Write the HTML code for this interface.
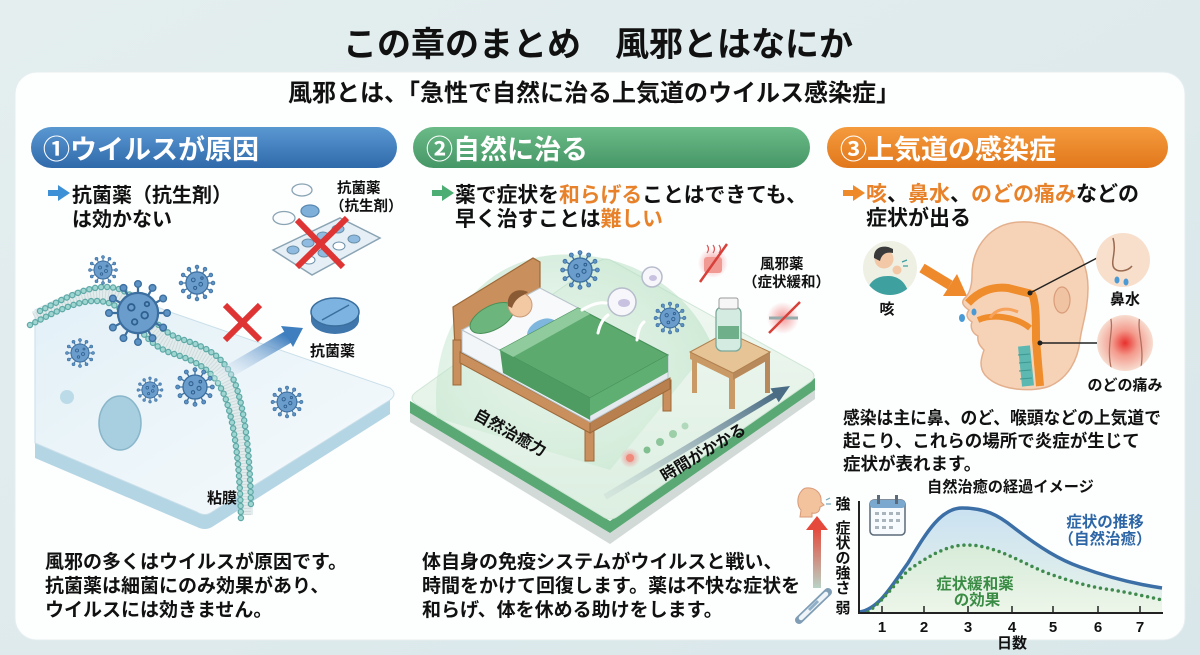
<!DOCTYPE html>
<html><head><meta charset="utf-8">
<style>
html,body{margin:0;padding:0;width:1200px;height:655px;overflow:hidden;background:#dfe9ec}
svg{display:block}
text{font-family:"Liberation Sans","Noto Sans CJK JP",sans-serif;font-weight:bold}
</style></head><body>
<svg width="1200" height="655" viewBox="0 0 1200 655" xmlns="http://www.w3.org/2000/svg">
<defs>
 <linearGradient id="bg" x1="0" y1="0" x2="1" y2="1"><stop offset="0" stop-color="#e4eeef"/><stop offset="1" stop-color="#d9e7ea"/></linearGradient>
 <linearGradient id="hb" x1="0" y1="0" x2="0" y2="1"><stop offset="0" stop-color="#5a98d2"/><stop offset="1" stop-color="#2f69aa"/></linearGradient>
 <linearGradient id="hg" x1="0" y1="0" x2="0" y2="1"><stop offset="0" stop-color="#6bbb88"/><stop offset="1" stop-color="#469766"/></linearGradient>
 <linearGradient id="ho" x1="0" y1="0" x2="0" y2="1"><stop offset="0" stop-color="#f49b3e"/><stop offset="1" stop-color="#e2771b"/></linearGradient>
 <linearGradient id="slab" x1="0" y1="0" x2="1" y2="1"><stop offset="0" stop-color="#e2f0f7"/><stop offset="1" stop-color="#f6fafc"/></linearGradient>
 <linearGradient id="plat" x1="0" y1="0" x2="0" y2="1"><stop offset="0" stop-color="#f2f9f3"/><stop offset="1" stop-color="#dcefe1"/></linearGradient>
 <linearGradient id="arrB" x1="0" y1="1" x2="1" y2="0"><stop offset="0" stop-color="#ffffff" stop-opacity="0.2"/><stop offset="1" stop-color="#3f7fbf"/></linearGradient>
 <linearGradient id="arrT" x1="0" y1="1" x2="1" y2="0"><stop offset="0" stop-color="#9fb3bd" stop-opacity="0.15"/><stop offset="1" stop-color="#4a6c84"/></linearGradient>
 <linearGradient id="chartFill" x1="0" y1="0" x2="0" y2="1"><stop offset="0" stop-color="#c9e1f1"/><stop offset="1" stop-color="#e9f4ea"/></linearGradient>
 <linearGradient id="greenFill" x1="0" y1="0" x2="0" y2="1"><stop offset="0" stop-color="#d8ecd2" stop-opacity="0.8"/><stop offset="1" stop-color="#eef7e8" stop-opacity="0.6"/></linearGradient>
 <linearGradient id="upArr" x1="0" y1="0" x2="0" y2="1"><stop offset="0" stop-color="#e5493b"/><stop offset="1" stop-color="#b9d3c6"/></linearGradient>
 <radialGradient id="throat" cx="0.5" cy="0.5" r="0.5"><stop offset="0" stop-color="#e8302c"/><stop offset="0.45" stop-color="#f39a8c"/><stop offset="1" stop-color="#f7ddd0"/></radialGradient>
 <radialGradient id="redglow" cx="0.5" cy="0.5" r="0.5"><stop offset="0" stop-color="#f07070" stop-opacity="0.7"/><stop offset="1" stop-color="#f07070" stop-opacity="0"/></radialGradient>
 <radialGradient id="dome" cx="0.45" cy="0.6" r="0.6"><stop offset="0" stop-color="#d5eedb" stop-opacity="0.2"/><stop offset="1" stop-color="#b8e0c4" stop-opacity="0.55"/></radialGradient>
 <clipPath id="coughClip"><circle cx="890" cy="268" r="27"/></clipPath>
 <clipPath id="throatClip"><circle cx="1125" cy="343" r="28"/></clipPath>
 <symbol id="virus" viewBox="-30 -30 60 60">
  <g stroke="#3c6f9f" stroke-width="2">
   <line x1="0" y1="0" x2="25" y2="0"/><line x1="0" y1="0" x2="21.65" y2="12.5"/><line x1="0" y1="0" x2="12.5" y2="21.65"/><line x1="0" y1="0" x2="0" y2="25"/>
   <line x1="0" y1="0" x2="-12.5" y2="21.65"/><line x1="0" y1="0" x2="-21.65" y2="12.5"/><line x1="0" y1="0" x2="-25" y2="0"/><line x1="0" y1="0" x2="-21.65" y2="-12.5"/>
   <line x1="0" y1="0" x2="-12.5" y2="-21.65"/><line x1="0" y1="0" x2="0" y2="-25"/><line x1="0" y1="0" x2="12.5" y2="-21.65"/><line x1="0" y1="0" x2="21.65" y2="-12.5"/>
  </g>
  <g fill="#5d92c4" stroke="#3c6f9f" stroke-width="1.2">
   <circle cx="26" cy="0" r="3"/><circle cx="22.5" cy="13" r="3"/><circle cx="13" cy="22.5" r="3"/><circle cx="0" cy="26" r="3"/>
   <circle cx="-13" cy="22.5" r="3"/><circle cx="-22.5" cy="13" r="3"/><circle cx="-26" cy="0" r="3"/><circle cx="-22.5" cy="-13" r="3"/>
   <circle cx="-13" cy="-22.5" r="3"/><circle cx="0" cy="-26" r="3"/><circle cx="13" cy="-22.5" r="3"/><circle cx="22.5" cy="-13" r="3"/>
  </g>
  <circle cx="0" cy="0" r="18" fill="#6a9dcc" stroke="#3c6f9f" stroke-width="2"/>
  <g fill="none" stroke="#2f5f8f" stroke-width="1.6"><circle cx="-6" cy="-5" r="3"/><circle cx="6" cy="2" r="3"/><circle cx="-3" cy="8" r="2.5"/><circle cx="8" cy="-8" r="2"/></g>
 </symbol>
</defs>

<!-- background -->
<rect x="0" y="0" width="1200" height="655" fill="url(#bg)"/>
<text x="343" y="56" font-size="34" fill="#111">この章のまとめ　風邪とはなにか</text>

<!-- card -->
<rect x="15" y="72" width="1170" height="568" rx="22" fill="#fdfefe" stroke="#e6eef0" stroke-width="1"/>
<text x="288" y="101" font-size="24" fill="#111">風邪とは、「急性で自然に治る上気道のウイルス感染症」</text>

<!-- headers -->
<rect x="31" y="127" width="366" height="41" rx="20.5" fill="url(#hb)"/>
<text x="43" y="159" font-size="27" fill="#fff">①ウイルスが原因</text>
<rect x="413" y="127" width="397" height="41" rx="20.5" fill="url(#hg)"/>
<text x="426" y="159" font-size="27" fill="#fff">②自然に治る</text>
<rect x="827" y="127" width="341" height="41" rx="20.5" fill="url(#ho)"/>
<text x="840" y="159" font-size="27" fill="#fff">③上気道の感染症</text>

<!-- bullets -->
<g>
 <rect x="48" y="190" width="12" height="6" fill="#3d8fd6"/><polygon points="58,185 70,193 58,201" fill="#3d8fd6"/>
 <text x="72" y="202" font-size="20" fill="#111">抗菌薬（抗生剤）</text>
 <text x="72" y="226" font-size="20" fill="#111">は効かない</text>

 <rect x="432" y="190" width="12" height="6" fill="#4cae73"/><polygon points="442,185 454,193 442,201" fill="#4cae73"/>
 <text x="455" y="202" font-size="20.8" fill="#111">薬で症状を<tspan fill="#e8822a">和らげる</tspan>ことはできても、</text>
 <text x="455" y="226" font-size="20.8" fill="#111">早く治すことは<tspan fill="#e8822a">難しい</tspan></text>

 <rect x="843" y="190" width="12" height="6" fill="#ee8a2a"/><polygon points="853,185 865,193 853,201" fill="#ee8a2a"/>
 <text x="866" y="201" font-size="21" fill="#111"><tspan fill="#e8822a">咳</tspan>、<tspan fill="#e8822a">鼻水</tspan>、<tspan fill="#e8822a">のどの痛み</tspan>などの</text>
 <text x="866" y="225" font-size="21" fill="#111">症状が出る</text>
</g>

<!-- ===== Panel 1 illustration ===== -->
<g>
 <path d="M35,443 L197,512 Q205,517 212,512 L390,400 L390,414 L212,527 Q205,531 197,527 L35,458 Z" fill="#b3d5e4"/>
 <path d="M35,310 C60,298 90,280 115,288 C135,294 150,305 170,312 L390,388 Q398,394 390,400 L212,512 Q205,517 197,512 L35,443 Z" fill="url(#slab)" stroke="#c9dfe9" stroke-width="1"/>
 <!-- membrane -->
 <path d="M35,318 C60,305 90,288 114,296 C138,304 146,336 176,346 C205,355 220,365 230,390 C240,418 245,460 246,515" fill="none" stroke="#e2eced" stroke-width="14"/>
 <path d="M35,318 C60,305 90,288 114,296 C138,304 146,336 176,346 C205,355 220,365 230,390 C240,418 245,460 246,515" fill="none" stroke="#cfdadc" stroke-width="10" stroke-dasharray="1 2"/>
 <g transform="translate(5,-7)"><path d="M35,318 C60,305 90,288 114,296 C138,304 146,336 176,346 C205,355 220,365 230,390 C240,418 245,460 246,515" fill="none" stroke="#5fa9a7" stroke-width="6.5" stroke-linecap="round" stroke-dasharray="0 6"/>
 <path d="M35,318 C60,305 90,288 114,296 C138,304 146,336 176,346 C205,355 220,365 230,390 C240,418 245,460 246,515" fill="none" stroke="#9fd6d2" stroke-width="4" stroke-linecap="round" stroke-dasharray="0 6"/></g>
 <g transform="translate(-5,7)"><path d="M35,318 C60,305 90,288 114,296 C138,304 146,336 176,346 C205,355 220,365 230,390 C240,418 245,460 246,515" fill="none" stroke="#5fa9a7" stroke-width="6.5" stroke-linecap="round" stroke-dasharray="0 6"/>
 <path d="M35,318 C60,305 90,288 114,296 C138,304 146,336 176,346 C205,355 220,365 230,390 C240,418 245,460 246,515" fill="none" stroke="#9fd6d2" stroke-width="4" stroke-linecap="round" stroke-dasharray="0 6"/></g>
 <ellipse cx="120" cy="423" rx="21" ry="27" fill="#a8cfe0" stroke="#8ab6ca" stroke-width="1.5"/>
 <circle cx="67" cy="397" r="7" fill="#bcdbe8"/>
 <use href="#virus" x="88" y="255" width="30" height="30"/>
 <use href="#virus" x="178.5" y="264.5" width="37" height="37"/>
 <use href="#virus" x="104.5" y="279.5" width="67" height="67"/>
 <use href="#virus" x="65" y="338" width="30" height="30"/>
 <use href="#virus" x="136.5" y="376.5" width="27" height="27"/>
 <use href="#virus" x="175" y="367" width="40" height="40"/>
 <use href="#virus" x="270.5" y="385.5" width="33" height="33"/>
 <!-- arrow -->
 <line x1="214" y1="380" x2="288" y2="337" stroke="url(#arrB)" stroke-width="13"/>
 <polygon points="303,328 293,347 281,326" fill="#3f7fbf"/>
 <!-- red X -->
 <g stroke="#de3434" stroke-width="6" stroke-linecap="butt"><line x1="225" y1="305" x2="260" y2="340"/><line x1="260" y1="305" x2="225" y2="340"/></g>
 <!-- tablet -->
 <ellipse cx="335" cy="320" rx="24" ry="14" fill="#3f77ad"/>
 <rect x="311" y="312" width="48" height="8" fill="#3f77ad"/>
 <ellipse cx="335" cy="312" rx="24" ry="14" fill="#7db3e0" stroke="#3a6e9e" stroke-width="1.5"/>
 <line x1="322" y1="320" x2="349" y2="305" stroke="#3a6e9e" stroke-width="1.5"/>
 <text x="310" y="356" font-size="15" fill="#111">抗菌薬</text>
 <!-- blister pack & pills -->
 <polygon points="273,250 340,218 380,238 312,275" fill="#e6eff5" stroke="#8aa4b4" stroke-width="1.5"/>
 <g fill="#8fbbe0" stroke="#6a8ea8" stroke-width="1">
  <ellipse cx="293" cy="250" rx="6" ry="4"/><ellipse cx="308" cy="243" rx="6" ry="4"/><ellipse cx="323" cy="236" rx="6" ry="4"/><ellipse cx="338" cy="229" rx="6" ry="4"/>
  <ellipse cx="309" cy="260" rx="6" ry="4" fill="#fff"/><ellipse cx="324" cy="253" rx="6" ry="4"/><ellipse cx="339" cy="246" rx="6" ry="4" fill="#fff"/><ellipse cx="354" cy="239" rx="6" ry="4"/>
 </g>
 <ellipse cx="302" cy="190" rx="10" ry="6" fill="#fafcfd" stroke="#8aa4b4" stroke-width="1.3"/>
 <ellipse cx="284" cy="218" rx="11" ry="6.5" fill="#fafcfd" stroke="#8aa4b4" stroke-width="1.3"/>
 <ellipse cx="310" cy="211" rx="9" ry="6" fill="#7fb0da" stroke="#5a88b0" stroke-width="1.3"/>
 <g stroke="#de3434" stroke-width="6"><line x1="297" y1="220" x2="343" y2="267"/><line x1="347" y1="218" x2="297" y2="267"/></g>
 <text x="337" y="193" font-size="14.5" fill="#111">抗菌薬</text>
 <text x="330" y="211" font-size="14.5" fill="#111">（抗生剤）</text>
 <text x="207" y="503" font-size="15" fill="#111">粘膜</text>
</g>

<!-- ===== Panel 2 illustration ===== -->
<g>
 <polygon points="410,413 610,533 815,390 815,399 610,544 410,422" fill="#d2dad7"/>
 <polygon points="410,401 610,521 815,378 815,390 610,533 410,413" fill="#5aa874"/>
 <path d="M416,392 L598,262 Q606,256 614,262 L810,370 Q818,376 810,382 L618,516 Q610,522 602,516 L416,404 Q408,398 416,392 Z" fill="url(#plat)" stroke="#cfe6d6" stroke-width="1"/>
 <path d="M437,418 C428,330 478,262 553,255 C628,250 688,288 712,345 L610,470 Z" fill="url(#dome)"/>
 <!-- bed -->
 <polygon points="453,307 533,258 540,262 540,300 462,350 455,348" fill="#c98f5c" stroke="#9d6939" stroke-width="1.2"/>
 <rect x="453" y="340" width="8" height="45" fill="#c98f5c" stroke="#9d6939" stroke-width="1"/>
 <rect x="585" y="425" width="9" height="36" fill="#c98f5c" stroke="#9d6939" stroke-width="1"/>
 <rect x="663" y="380" width="8" height="31" fill="#c98f5c" stroke="#9d6939" stroke-width="1"/>
 <polygon points="460,352 590,422 590,433 460,363" fill="#c98f5c" stroke="#9d6939" stroke-width="1"/>
 <polygon points="590,422 670,378 670,389 590,433" fill="#b8804e" stroke="#9d6939" stroke-width="1"/>
 <polygon points="462,330 590,398 590,422 462,352" fill="#f3f6f8" stroke="#b8c4cc" stroke-width="1"/>
 <polygon points="590,398 668,355 668,378 590,422" fill="#e4eaee" stroke="#b8c4cc" stroke-width="1"/>
 <polygon points="462,330 540,288 668,355 590,398" fill="#f7f9fb" stroke="#b8c4cc" stroke-width="1"/>
 <ellipse cx="492" cy="318" rx="24" ry="12" transform="rotate(-28 492 318)" fill="#6cb57c" stroke="#4a9058" stroke-width="1"/>
 <ellipse cx="542" cy="330" rx="16" ry="10" transform="rotate(-28 542 330)" fill="#7fb6de"/>
 <circle cx="520" cy="305" r="12" fill="#f3c9a4" stroke="#c99a78" stroke-width="1"/>
 <path d="M508,306 C506,293 517,287 528,292 C524,296 516,296 512,308 Z" fill="#8a5a34"/>
 <polygon points="500,350 578,308 668,355 590,398" fill="#5caa6e" stroke="#468f58" stroke-width="1"/>
 <polygon points="500,350 578,308 590,314 513,357" fill="#8fcb9d"/>
 <polygon points="500,350 590,398 590,420 503,373" fill="#4f9c62"/>
 <polygon points="590,398 668,355 668,372 590,416" fill="#5fae72"/>
 <!-- immune cells & viruses -->
 <use href="#virus" x="560" y="250" width="40" height="40"/>
 <use href="#virus" x="653.5" y="301.5" width="33" height="33"/>
 <circle cx="622" cy="302" r="14" fill="#f6f6fb" stroke="#b6bccb" stroke-width="1.5"/>
 <ellipse cx="624" cy="303" rx="6" ry="4" fill="#c8c2e0"/>
 <circle cx="652" cy="277" r="10" fill="#f6f6fb" stroke="#b6bccb" stroke-width="1.5"/>
 <ellipse cx="653" cy="278" rx="4" ry="3" fill="#c8c2e0"/>
 <g fill="none" stroke="#ffffff" stroke-width="3" stroke-linecap="round"><path d="M582,310 C592,304 600,302 606,303"/><path d="M598,333 C600,324 604,318 608,315"/><path d="M637,340 C638,331 640,325 644,322"/></g>
 <!-- table -->
 <rect x="692" y="355" width="5" height="38" fill="#c99a66"/><rect x="729" y="376" width="6" height="33" fill="#c99a66"/><rect x="765" y="355" width="5" height="38" fill="#b8895a"/>
 <polygon points="690,352 733,373 733,380 690,359" fill="#c99a66"/>
 <polygon points="733,373 770,352 770,359 733,380" fill="#b8895a"/>
 <polygon points="690,352 727,332 770,352 733,373" fill="#e6c495" stroke="#b08050" stroke-width="1"/>
 <rect x="716" y="307" width="25" height="44" rx="6" fill="#d3ebe1" stroke="#7aa89a" stroke-width="1.3"/>
 <rect x="718" y="326" width="21" height="13" fill="#6fb08a"/>
 <rect x="719" y="298" width="19" height="11" rx="2" fill="#f6f6f6" stroke="#999" stroke-width="1"/>
 <!-- red icons -->
 <circle cx="713" cy="263" r="15" fill="url(#redglow)"/>
 <rect x="704" y="257" width="18" height="16" rx="3" fill="#f19a94"/>
 <path d="M707,253 q3,-4 0,-8 M713,253 q3,-4 0,-8 M719,253 q3,-4 0,-8" fill="none" stroke="#d55" stroke-width="1.2"/>
 <line x1="700" y1="282" x2="727" y2="244" stroke="#d8403a" stroke-width="2.5"/>
 <circle cx="783" cy="318" r="16" fill="url(#redglow)"/>
 <line x1="769" y1="318" x2="798" y2="318" stroke="#9aa" stroke-width="3"/>
 <line x1="769" y1="333" x2="800" y2="302" stroke="#d8403a" stroke-width="2.5"/>
 <text x="760" y="269" font-size="14.5" fill="#111">風邪薬</text>
 <text x="743" y="287" font-size="14.5" fill="#111">（症状緩和）</text>
 <!-- time arrow -->
 <line x1="605" y1="497" x2="775" y2="395" stroke="url(#arrT)" stroke-width="6"/>
 <polygon points="790,386 778.7,402.2 770.5,388.4" fill="#4a6c84"/>
 <circle cx="630" cy="458" r="10" fill="url(#redglow)"/><circle cx="630" cy="458" r="4" fill="#f08a7a"/>
 <circle cx="647" cy="450" r="3.5" fill="#7fbf90"/><circle cx="660" cy="442" r="4" fill="#8cc59a"/><circle cx="673" cy="434" r="4" fill="#9ccfa8"/><circle cx="685" cy="426" r="3.5" fill="#b0d9bb"/>
 <text x="510" y="438" font-size="16" fill="#111" text-anchor="middle" transform="rotate(29 510 433)">自然治癒力</text>
 <text x="703" y="458" font-size="16" fill="#111" text-anchor="middle" transform="rotate(-31 703 452)">時間がかかる</text>
</g>

<!-- ===== Panel 3 illustration ===== -->
<g>
 <circle cx="890" cy="268" r="27" fill="#eef0e4"/>
 <g clip-path="url(#coughClip)">
  <path d="M866,300 C866,284 874,276 888,276 C900,276 908,284 910,300 Z" fill="#3fa0a0"/>
  <circle cx="884" cy="259" r="9.5" fill="#f2c8a6"/>
  <path d="M874,258 C873,247 884,244 893,249 L893,253 C887,252 882,253 880,261 Z" fill="#3a3a3a"/>
  <circle cx="897" cy="270" r="4.5" fill="#f2c8a6"/>
  <path d="M902,262 l5,-2 M903,266 l5,0" stroke="#3fa0a0" stroke-width="1.3"/>
 </g>
 <text x="887" y="314" font-size="15" fill="#111" text-anchor="middle">咳</text>
 <line x1="922" y1="268" x2="950" y2="285" stroke="#ef8a2c" stroke-width="10"/>
 <polygon points="967,296 943,296 957,274" fill="#ef8a2c"/>
 <!-- head -->
 <path d="M1020,222 C1058,220 1088,248 1088,288 C1088,310 1082,325 1080,340 C1078,360 1068,378 1050,386 C1035,392 1000,392 985,375 C978,366 982,356 984,350 C980,346 977,342 978,336 C972,333 970,327 972,322 C966,318 966,314 969,310 C963,306 960,302 966,297 C970,292 972,284 972,275 C972,245 992,223 1020,222 Z" fill="#f6d3b7" stroke="#e3b08e" stroke-width="1.5"/>
 <ellipse cx="1062" cy="300" rx="8" ry="13" fill="#f0c3a2" stroke="#d99c7a" stroke-width="1.2"/>
 <path d="M968,303 C978,292 992,286 1008,288 L1032,294 C1036,302 1036,320 1036,340 L1040,386" fill="none" stroke="#ef8c2c" stroke-width="8" stroke-linejoin="round"/>
 <path d="M978,320 C992,314 1015,316 1030,328" fill="none" stroke="#ef8c2c" stroke-width="6"/>
 <path d="M1018,312 C1005,306 995,310 990,318" fill="none" stroke="#f6a25a" stroke-width="3"/>
 <path d="M1024,346 L1028,386" fill="none" stroke="#5db8b2" stroke-width="12"/>
 <g stroke="#3e9892" stroke-width="1"><line x1="1018" y1="355" x2="1030" y2="354"/><line x1="1019" y1="363" x2="1031" y2="362"/><line x1="1019" y1="371" x2="1031" y2="370"/><line x1="1020" y1="379" x2="1032" y2="378"/></g>
 <ellipse cx="962" cy="318" rx="3" ry="4" fill="#4a9ad6"/><ellipse cx="974" cy="312" rx="2.5" ry="3.5" fill="#4a9ad6"/>
 <!-- nose circle -->
 <line x1="1097" y1="258" x2="1030" y2="293" stroke="#222" stroke-width="1.5"/><circle cx="1030" cy="293" r="2.5" fill="#222"/>
 <circle cx="1123" cy="260" r="27" fill="#f7dfcc"/>
 <path d="M1113,238 C1117,252 1110,262 1114,268 C1118,273 1128,271 1132,266" fill="none" stroke="#9a6a50" stroke-width="1.5"/>
 <ellipse cx="1117" cy="280" rx="2.5" ry="3.5" fill="#4a9ad6"/><ellipse cx="1126" cy="282" rx="2.5" ry="3.5" fill="#4a9ad6"/>
 <text x="1125" y="304" font-size="15" fill="#111" text-anchor="middle">鼻水</text>
 <!-- throat circle -->
 <line x1="1097" y1="343" x2="1040" y2="343" stroke="#222" stroke-width="1.5"/><circle cx="1040" cy="343" r="2.5" fill="#222"/>
 <circle cx="1125" cy="343" r="28" fill="url(#throat)"/>
 <g clip-path="url(#throatClip)" fill="none" stroke="#b07060" stroke-width="1.3"><path d="M1110,316 C1115,330 1105,345 1112,372"/><path d="M1140,316 C1136,330 1146,348 1140,372"/></g>
 <text x="1125" y="390" font-size="15" fill="#111" text-anchor="middle">のどの痛み</text>
</g>

<!-- body texts -->
<g font-size="19" fill="#111">
 <text x="45" y="568" font-size="19">風邪の多くはウイルスが原因です。</text>
 <text x="45" y="592" font-size="19">抗菌薬は細菌にのみ効果があり、</text>
 <text x="45" y="616" font-size="19">ウイルスには効きません。</text>
 <text x="422" y="568" font-size="19">体自身の免疫システムがウイルスと戦い、</text>
 <text x="422" y="592" font-size="19">時間をかけて回復します。薬は不快な症状を</text>
 <text x="422" y="616" font-size="19">和らげ、体を休める助けをします。</text>
</g>
<text x="843" y="424" font-size="17.5" fill="#111" textLength="318" lengthAdjust="spacingAndGlyphs">感染は主に鼻、のど、喉頭などの上気道で</text>
<text x="843" y="447" font-size="17.5" fill="#111">起こり、これらの場所で炎症が生じて</text>
<text x="843" y="470" font-size="17.5" fill="#111">症状が表れます。</text>

<!-- ===== Chart ===== -->
<g>
 <text x="927" y="492" font-size="15.2" fill="#111">自然治癒の経過イメージ</text>
 <path d="M860,612 C880,608 892,585 908,563 C925,535 940,508 962,508 C985,508 998,515 1013,527 C1040,548 1060,560 1080,567 C1110,578 1135,584 1162,588 L1162,612 Z" fill="url(#chartFill)"/>
 <path d="M868,612 C890,595 900,575 913,567 C935,552 950,545 967,545 C995,545 1020,562 1047,573 C1075,583 1095,588 1113,590 C1135,594 1150,597 1162,600 L1162,612 Z" fill="url(#greenFill)"/>
 <path d="M860,612 C880,608 892,585 908,563 C925,535 940,508 962,508 C985,508 998,515 1013,527 C1040,548 1060,560 1080,567 C1110,578 1135,584 1162,588" fill="none" stroke="#3b6fa6" stroke-width="3.5"/>
 <path d="M868,612 C890,595 900,575 913,567 C935,552 950,545 967,545 C995,545 1020,562 1047,573 C1075,583 1095,588 1113,590 C1135,594 1150,597 1162,600" fill="none" stroke="#3f8a4e" stroke-width="3.5" stroke-linecap="round" stroke-dasharray="0 6"/>
 <line x1="859" y1="501" x2="859" y2="613" stroke="#222" stroke-width="2"/>
 <line x1="858" y1="613" x2="1163" y2="613" stroke="#222" stroke-width="2"/>
 <g stroke="#222" stroke-width="1.5"><line x1="882" y1="606" x2="882" y2="613"/><line x1="924" y1="606" x2="924" y2="613"/><line x1="968" y1="606" x2="968" y2="613"/><line x1="1012" y1="606" x2="1012" y2="613"/><line x1="1053" y1="606" x2="1053" y2="613"/><line x1="1098" y1="606" x2="1098" y2="613"/><line x1="1140" y1="606" x2="1140" y2="613"/></g>
 <g font-size="15" fill="#111" text-anchor="middle">
  <text x="882" y="632">1</text><text x="924" y="632">2</text><text x="968" y="632">3</text><text x="1012" y="632">4</text><text x="1053" y="632">5</text><text x="1098" y="632">6</text><text x="1140" y="632">7</text>
  <text x="1012" y="648">日数</text>
  <text x="843" y="509">強</text>
  <text x="843" y="533">症</text><text x="843" y="548">状</text><text x="843" y="563">の</text><text x="843" y="578">強</text><text x="843" y="593">さ</text>
  <text x="843" y="613">弱</text>
 </g>
 <text x="1105" y="527" font-size="15.5" fill="#2d66a6" text-anchor="middle">症状の推移</text>
 <text x="1105" y="544" font-size="15.5" fill="#2d66a6" text-anchor="middle">（自然治癒）</text>
 <text x="975" y="589" font-size="15.5" fill="#3a8c45" text-anchor="middle">症状緩和薬</text>
 <text x="977" y="605" font-size="15.5" fill="#3a8c45" text-anchor="middle">の効果</text>
 <!-- calendar -->
 <rect x="870" y="500" width="35" height="35" rx="4" fill="#f8fbfd" stroke="#5b6b7a" stroke-width="1.5"/>
 <rect x="870" y="500" width="35" height="8" rx="3" fill="#7aa8cf"/>
 <rect x="877" y="495" width="3" height="9" fill="#5b6b7a"/><rect x="895" y="495" width="3" height="9" fill="#5b6b7a"/>
 <g fill="#aab4bd"><rect x="875" y="512" width="4" height="3"/><rect x="882" y="512" width="4" height="3"/><rect x="889" y="512" width="4" height="3"/><rect x="896" y="512" width="4" height="3"/><rect x="875" y="519" width="4" height="3"/><rect x="882" y="519" width="4" height="3"/><rect x="889" y="519" width="4" height="3"/><rect x="896" y="519" width="4" height="3"/><rect x="875" y="526" width="4" height="3"/><rect x="882" y="526" width="4" height="3"/><rect x="889" y="526" width="4" height="3"/></g>
 <!-- left icons -->
 <path d="M806,488 C816,487 822,494 821,502 L824,505 L820,507 C820,512 816,514 812,513 L812,517 L800,517 L801,510 C797,506 797,498 800,493 C802,490 804,488 806,488 Z" fill="#f3c39e" stroke="#d89a78" stroke-width="1"/>
 <path d="M826,500 l4,-2 M826,504 l5,0" stroke="#7ab" stroke-width="1.2"/>
 <rect x="813" y="528" width="8" height="60" fill="url(#upArr)"/>
 <polygon points="806,530 828,530 817,516" fill="#e5493b"/>
 <line x1="799" y1="620" x2="828" y2="592" stroke="#7f9db5" stroke-width="8" stroke-linecap="round"/>
 <line x1="801" y1="618" x2="826" y2="594" stroke="#eef4f8" stroke-width="4.5" stroke-linecap="round"/>
 <line x1="809" y1="610" x2="818" y2="601" stroke="#8fb0c8" stroke-width="3"/>
</g>
</svg>
</body></html>
